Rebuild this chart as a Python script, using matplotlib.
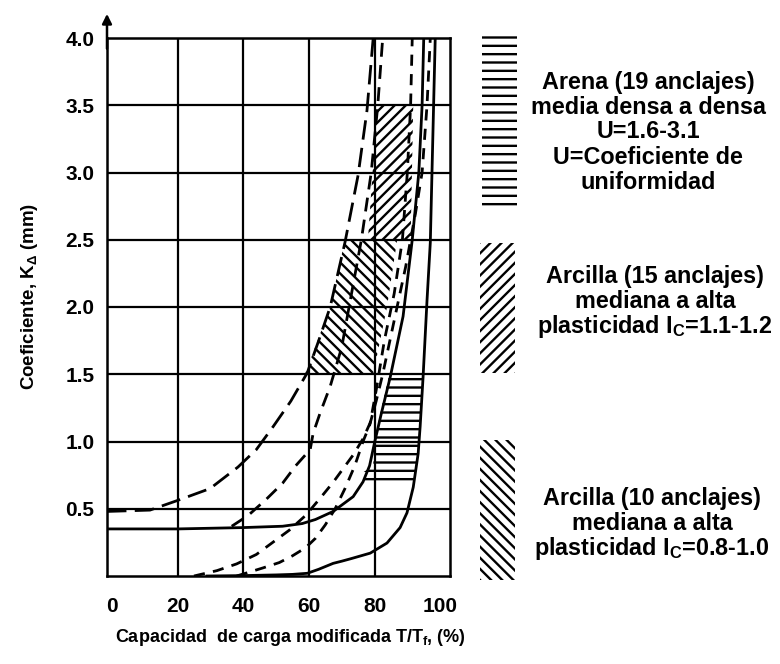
import matplotlib
matplotlib.use("Agg")
import matplotlib.pyplot as plt
from matplotlib.patches import Polygon, Rectangle

plt.rcParams['font.family'] = ['Liberation Sans', 'DejaVu Sans']
plt.rcParams['font.weight'] = 'bold'
plt.rcParams['mathtext.fontset'] = 'custom'
plt.rcParams['mathtext.rm'] = 'Liberation Sans:bold'
plt.rcParams['mathtext.bf'] = 'Liberation Sans:bold'
plt.rcParams['mathtext.default'] = 'bf'
plt.rcParams['hatch.linewidth'] = 1.7

# ---- axis ticks ----
x_ticks = [0, 20, 40, 60, 80, 100]
x_tick_labels = ['0', '20', '40', '60', '80', '100']
y_ticks = [0.5, 1.0, 1.5, 2.0, 2.5, 3.0, 3.5, 4.0]
y_tick_labels = ['0.5', '1.0', '1.5', '2.0', '2.5', '3.0', '3.5', '4.0']
x_grid = [20, 40, 60, 80]
y_grid = [0.5, 1.0, 1.5, 2.0, 2.5, 3.0, 3.5]

# ---- envelope curves (T/Tf in %, K in mm) ----
c1_x = [-1.5, 11.6, 19.8, 29.9, 38.4, 44.0, 49.1, 54.5, 59.5, 63.0, 66.5, 71.0, 75.0, 77.7, 79.6]
c1_y = [0.48, 0.49, 0.56, 0.65, 0.81, 0.94, 1.11, 1.30, 1.51, 1.75, 2.00, 2.48, 2.98, 3.46, 4.00]

c2_x = [-1.5, 20, 40, 52, 58, 62, 67.4, 73.5, 76.5, 78.5, 80.0, 82.0, 84.8, 88.7, 91.5, 93.5, 94.5, 95.0]
c2_y = [0.35, 0.35, 0.36, 0.37, 0.39, 0.42, 0.48, 0.59, 0.70, 0.82, 0.99, 1.20, 1.48, 1.93, 2.50, 3.00, 3.50, 4.00]

r_x = [29, 40, 50, 55, 59.5, 63, 67.4, 70, 73.0, 78.7, 83.8, 87.8, 89.9, 91.8, 93.3, 93.9, 94.8, 96.0, 97.0, 97.6, 98.5]
r_y = [0.0, 0.003, 0.008, 0.012, 0.02, 0.05, 0.094, 0.11, 0.13, 0.17, 0.245, 0.36, 0.47, 0.66, 0.91, 1.11, 1.48, 2.05, 2.48, 3.09, 4.00]

c3_x = [36.5, 41.5, 47, 52, 56, 60.4, 61.3, 63.4, 66.5, 70, 73, 76, 79, 81, 82.5]
c3_y = [0.37, 0.45, 0.57, 0.69, 0.82, 0.94, 1.06, 1.21, 1.41, 1.70, 2.10, 2.50, 3.00, 3.50, 4.00]

c4_x = [25, 32, 38, 44, 49, 54, 59, 63.5, 67.5, 70.5, 73.5, 76.5, 78.7, 80.5, 83, 86, 88.5, 90, 91, 91.5]
c4_y = [0.0, 0.04, 0.09, 0.16, 0.25, 0.34, 0.45, 0.58, 0.70, 0.80, 0.90, 1.02, 1.14, 1.38, 1.75, 2.10, 2.50, 3.00, 3.50, 4.00]

c5_x = [38, 42, 46, 51, 55, 59, 62, 65, 68, 71, 74, 76.5, 78.5, 80.5, 82.5, 86, 89.5, 92.5, 94.5, 96, 97]
c5_y = [0.0, 0.03, 0.06, 0.10, 0.15, 0.21, 0.28, 0.38, 0.50, 0.65, 0.82, 1.00, 1.12, 1.30, 1.50, 1.90, 2.30, 2.70, 3.00, 3.50, 4.00]

# ---- soil zones ----
clay10_x = [58.8, 79.6, 83.8, 86.9, 71.0, 66.5]
clay10_y = [1.5, 1.5, 2.0, 2.5, 2.5, 2.0]
clay15_x = [78.0, 91.0, 91.8, 80.8]
clay15_y = [2.5, 2.5, 3.5, 3.5]
sand_x = [84.5, 82.0, 80.0, 79.6, 76.5, 76.5, 92.0, 93.3, 94.0, 94.8]
sand_y = [1.5, 1.24, 1.0, 0.82, 0.77, 0.70, 0.70, 0.91, 1.11, 1.5]

legend_blocks = [
    ["Arena (19 anclajes)", "media densa a densa", "U=1.6-3.1",
     "U=Coeficiente de", "uniformidad"],
    ["Arcilla (15 anclajes)", "mediana a alta", r"plasticidad I$_{\mathbf{C}}$=1.1-1.2"],
    ["Arcilla (10 anclajes)", "mediana a alta", r"plasticidad I$_{\mathbf{C}}$=0.8-1.0"],
]

W, H = 780, 664
fig = plt.figure(figsize=(W / 100, H / 100), dpi=100)
ax = fig.add_axes([107 / W, 1 - 576 / H, (450 - 107) / W, (576 - 38) / H])
ax.set_xlim(-1.5, 103)
ax.set_ylim(0, 4.0)

for s in ax.spines.values():
    s.set_linewidth(1.8)
for gx in x_grid:
    ax.axvline(gx, color='black', lw=1.6, zorder=1)
for gy in y_grid:
    ax.axhline(gy, color='black', lw=1.6, zorder=1)

ax.set_xticks(x_ticks)
ax.set_xticklabels(x_tick_labels)
ax.set_yticks(y_ticks)
ax.set_yticklabels(y_tick_labels)
ax.tick_params(length=0, labelsize=15)
ax.tick_params(axis='x', pad=15)
ax.tick_params(axis='y', pad=9)

def zone(xs, ys, hatch):
    ax.add_patch(Polygon(list(zip(xs, ys)), closed=True, fill=False,
                         hatch=hatch, edgecolor='black', linewidth=0, zorder=2))

zone(clay10_x, clay10_y, '\\\\\\')
zone(clay15_x, clay15_y, '///')
zone(sand_x, sand_y, '--')

lw = 2.0
ax.plot(c1_x, c1_y, color='black', lw=lw, ls=(0, (7, 3)), zorder=3)
ax.plot(c2_x, c2_y, color='black', lw=lw, zorder=3)
ax.plot(r_x, r_y, color='black', lw=lw, zorder=3)
ax.plot(c3_x, c3_y, color='black', lw=lw, ls=(0, (5, 3)), zorder=3)
ax.plot(c4_x, c4_y, color='black', lw=lw, ls=(0, (4, 3)), zorder=3)
ax.plot(c5_x, c5_y, color='black', lw=lw, ls=(0, (4, 3)), zorder=3)

# vertical axis arrow
ax.annotate('', xy=(-1.5, 4.2), xytext=(-1.5, 3.9), xycoords='data',
            arrowprops=dict(arrowstyle='-|>', color='black', lw=1.8,
                            mutation_scale=14), annotation_clip=False)

fig.text(290 / W, 1 - 638 / H, "Capacidad  de carga modificada T/T$_{\\mathbf{f}}$, (%)",
         ha='center', va='center', fontsize=13)
fig.text(30 / W, 1 - 296 / H, "Coeficiente, K$_{\\mathbf{\u0394}}$ (mm)",
         ha='center', va='center', rotation=90, fontsize=13.5)

# legend swatches
def swatch(x0, y0, x1, y1, hatch):
    fig.add_artist(Rectangle((x0 / W, 1 - y1 / H), (x1 - x0) / W, (y1 - y0) / H,
                             transform=fig.transFigure, fill=False, hatch=hatch,
                             edgecolor='black', linewidth=0))

swatch(482, 35, 517, 208, '--')
swatch(480, 243, 515, 373, '///')
swatch(480, 440, 515, 580, '\\\\\\')

block_pos = [(648, 82), (655, 276), (652, 498)]
for (cx, y0), lines in zip(block_pos, legend_blocks):
    for i, t in enumerate(lines):
        fig.text(cx / W, 1 - (y0 + 25 * i) / H, t, ha='center', va='center', fontsize=16.8)

fig.savefig('out.png', dpi=100, facecolor='white')
